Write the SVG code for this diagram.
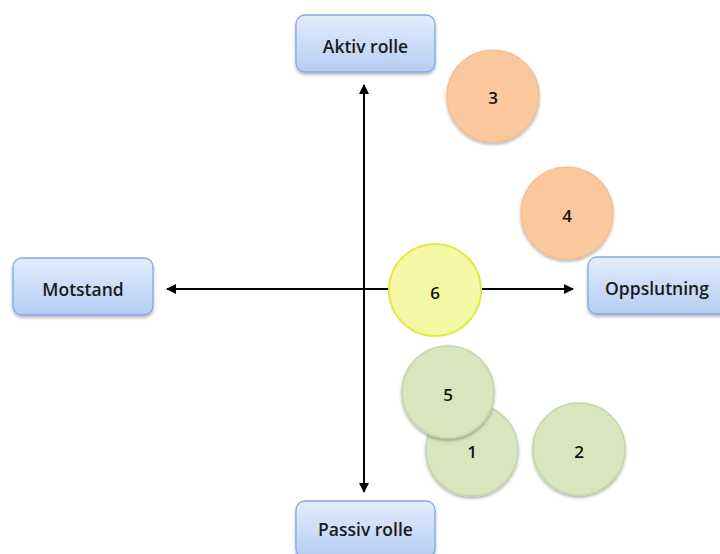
<svg xmlns="http://www.w3.org/2000/svg" width="720" height="554" viewBox="0 0 720 554">
<defs>
<linearGradient id="boxg" x1="0" y1="0" x2="0" y2="1">
<stop offset="0" stop-color="#e3edfc"/>
<stop offset="1" stop-color="#b5cdf3"/>
</linearGradient>
<filter id="sh" x="-20%" y="-20%" width="140%" height="150%">
<feDropShadow dx="0" dy="2" stdDeviation="1.5" flood-color="#000" flood-opacity="0.3"/>
</filter>
<marker id="ah" viewBox="0 0 10 10" refX="9" refY="5" markerWidth="5" markerHeight="5" orient="auto-start-reverse" markerUnits="strokeWidth">
<path d="M0,0 L10,5 L0,10 z" fill="#000"/>
</marker>
<style>
.box{fill:url(#boxg);stroke:#86a8dc;stroke-width:1.3;filter:url(#sh)}
.lbl{font-family:"Open Sans","Liberation Sans",sans-serif;font-size:17.5px;font-weight:600;fill:#1a1a1a;text-anchor:middle;dominant-baseline:central}
.num{font-family:"Open Sans","Liberation Sans",sans-serif;font-size:17px;font-weight:600;fill:#111;text-anchor:middle;dominant-baseline:central}
.orange{fill:#fbc79d;stroke:#f4bb90;stroke-width:1.2;filter:url(#sh)}
.green{fill:#d8e5bf;stroke:#c3d6a3;stroke-width:1.5;filter:url(#sh)}
.yellow{fill:#f4f7a4;stroke:#e4e842;stroke-width:2}
.ax{stroke:#000;stroke-width:2;fill:none}
</style>
</defs>
<g id="connectors">
<line class="ax" x1="364" y1="492" x2="364" y2="85" marker-start="url(#ah)" marker-end="url(#ah)"/>
<line class="ax" x1="167" y1="289" x2="573" y2="289" marker-start="url(#ah)" marker-end="url(#ah)"/>
</g>
<g id="aktiv"><rect class="box" x="296" y="15" width="139" height="57" rx="9"/><text class="lbl" x="365.5" y="46">Aktiv rolle</text></g>
<g id="passiv"><rect class="box" x="296" y="501" width="139" height="57" rx="9"/><text class="lbl" x="365.5" y="529">Passiv rolle</text></g>
<g id="motstand"><rect class="box" x="13" y="258" width="140" height="57" rx="9"/><text class="lbl" x="83" y="289">Motstand</text></g>
<g id="oppslutning"><rect class="box" x="588" y="257" width="140" height="57" rx="9"/><text class="lbl" x="657" y="288">Oppslutning</text></g>
<g id="c3"><circle class="orange" cx="493" cy="96" r="46"/><text class="num" x="493" y="97">3</text></g>
<g id="c4"><circle class="orange" cx="567" cy="213" r="46"/><text class="num" x="567" y="215">4</text></g>
<g id="c6"><circle class="yellow" cx="435" cy="290" r="46"/><text class="num" x="435" y="292">6</text></g>
<g id="c1"><circle class="green" cx="472" cy="450" r="46"/><text class="num" x="472" y="451">1</text></g>
<g id="c5"><circle class="green" cx="448" cy="392" r="46"/><text class="num" x="448" y="394">5</text></g>
<g id="c2"><circle class="green" cx="579" cy="449" r="46"/><text class="num" x="579" y="451">2</text></g>
</svg>
